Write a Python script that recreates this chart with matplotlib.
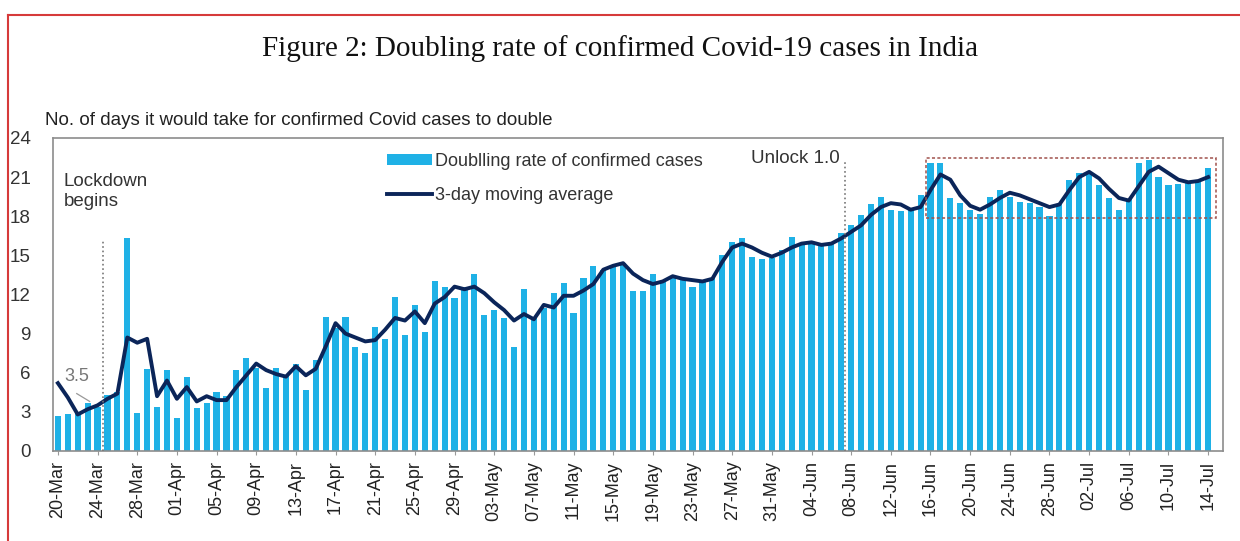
import matplotlib
matplotlib.use("Agg")
import matplotlib.pyplot as plt
import pandas as pd
from matplotlib.lines import Line2D
from matplotlib.patches import Rectangle

plt.rcParams['font.family'] = ['Liberation Sans', 'DejaVu Sans']

dates = pd.date_range("2020-03-20", "2020-07-14", freq="D")
labels = [d.strftime("%d-%b") for d in dates]

doubling_rate = [
    2.7, 2.8, 3.0, 3.7, 3.4, 4.3, 4.5, 16.3, 2.9, 6.3, 3.4, 6.2,          # Mar
    2.5, 5.7, 3.3, 3.7, 4.5, 4.2, 6.2, 7.1, 6.4, 4.8, 6.4, 5.8, 6.7, 4.7,
    7.0, 10.3, 9.4, 10.3, 8.0, 7.5, 9.5, 8.6, 11.8, 8.9, 11.2, 9.1, 13.0,
    12.6, 11.7, 12.6,                                                   # Apr
    13.6, 10.4, 10.8, 10.2, 8.0, 12.4, 10.2, 11.0, 12.1, 12.9, 10.6, 13.3,
    14.2, 13.9, 14.1, 14.4, 12.3, 12.3, 13.6, 13.0, 13.3, 13.1, 12.6, 13.0,
    13.3, 15.0, 16.0, 16.3, 14.9, 14.7, 14.8,                           # May
    15.4, 16.4, 15.9, 15.9, 15.8, 15.9, 16.7, 17.3, 18.1, 18.9, 19.5, 18.5,
    18.4, 18.6, 19.6, 22.1, 22.1, 19.4, 19.0, 18.5, 18.2, 19.5, 20.0, 19.5,
    19.1, 19.0, 18.7, 18.0, 18.9, 20.8,                                 # Jun
    21.3, 21.2, 20.4, 19.4, 18.5, 19.3, 22.1, 22.3, 21.0, 20.4, 20.5, 20.6,
    20.8, 21.7,                                                         # Jul
]

moving_avg = [
    5.2, 4.1, 2.8, 3.2, 3.5, 4.0, 4.4, 8.7, 8.3, 8.6, 4.2, 5.4,
    4.0, 4.9, 3.8, 4.2, 3.9, 3.9, 4.9, 5.8, 6.7, 6.2, 5.9, 5.7, 6.5, 5.8,
    6.3, 8.0, 9.8, 9.0, 8.7, 8.4, 8.5, 9.3, 10.2, 10.0, 10.7, 9.8, 11.3,
    11.8, 12.6, 12.4,
    12.6, 12.1, 11.4, 10.8, 10.0, 10.5, 10.1, 11.2, 11.0, 11.9, 11.9, 12.3,
    12.8, 13.9, 14.2, 14.4, 13.6, 13.1, 12.8, 13.0, 13.4, 13.2, 13.1, 13.0,
    13.2, 14.5, 15.6, 15.9, 15.6, 15.2, 14.9,
    15.2, 15.6, 15.9, 16.0, 15.8, 15.9, 16.3, 16.8, 17.3, 18.1, 18.7, 19.0,
    18.9, 18.5, 18.7, 20.0, 21.2, 20.8, 19.6, 18.8, 18.5, 18.9, 19.4, 19.8,
    19.6, 19.3, 19.0, 18.7, 18.9, 20.0,
    21.0, 21.4, 20.9, 20.1, 19.4, 19.2, 20.3, 21.4, 21.8, 21.3, 20.8, 20.6,
    20.7, 21.0,
]

x = list(range(len(dates)))

fig = plt.figure(figsize=(12.4, 5.41), dpi=100)
ax = fig.add_axes([0.0427, 0.1664, 0.9436, 0.5786])

bars = ax.bar(x, doubling_rate, width=0.62, color='#1fb1e6',
              label='Doublling rate of confirmed cases', zorder=2)
line, = ax.plot(x, moving_avg, color='#0b2559', lw=2.8,
                label='3-day moving average', zorder=3)

ax.set_xlim(-0.5, 117.5)
ax.set_ylim(0, 24)
ax.set_yticks(range(0, 25, 3))
ax.set_xticks(x[::4])
ax.set_xticklabels(labels[::4], rotation=90, fontsize=13, color='#222222')
ax.tick_params(axis='y', length=0, pad=16, labelsize=13.5, labelcolor='#333333')
ax.tick_params(axis='x', length=3, color='#999999', pad=4)
for s in ax.spines.values():
    s.set_color('#8c8c8c')
    s.set_linewidth(1.2)

# lockdown / unlock markers
ax.vlines(4.5, 0, 16.2, colors='#777777', linestyles=':', lw=1.2, zorder=4)
ax.text(0.6, 19.9, "Lockdown\nbegins", fontsize=13.5, color='#333333',
        va='center', ha='left', linespacing=1.25)
ax.vlines(79.4, 0, 22.3, colors='#777777', linestyles=':', lw=1.2, zorder=4)
ax.text(78.8, 22.4, "Unlock 1.0", fontsize=13.5, color='#333333',
        va='center', ha='right')

ax.text(0.6, 5.7, "3.5", fontsize=13, color='#777777', va='center')
ax.plot([1.9, 3.2], [4.4, 3.8], color='#999999', lw=0.9, zorder=4)

# highlight box
ax.add_patch(Rectangle((87.5, 17.9), 29.3, 4.6, fill=False,
                       edgecolor='#a0524d', ls=(0, (2, 1.5)), lw=1.1, zorder=5))

ax.legend(handles=[bars, line], loc='upper left', bbox_to_anchor=(0.2795, 0.975),
          frameon=False, fontsize=13, handlelength=2.5, handleheight=0.5,
          handletextpad=0.15, labelspacing=0.95, borderaxespad=0,
          labelcolor='#333333')

fig.text(0.5, 0.911, "Figure 2: Doubling rate of confirmed Covid-19 cases in India",
         ha='center', va='center', fontsize=21, family='Liberation Serif',
         color='#111111')
fig.text(0.036, 0.778, "No. of days it would take for confirmed Covid cases to double",
         ha='left', va='center', fontsize=13.5, color='#222222')

# red frame of the cropped page
fig.add_artist(Line2D([0.0065, 0.0065], [0, 0.972], color='#d63a3a', lw=1.5))
fig.add_artist(Line2D([0.0065, 1.0], [0.972, 0.972], color='#d63a3a', lw=1.5))

fig.savefig("out.png", dpi=100)
